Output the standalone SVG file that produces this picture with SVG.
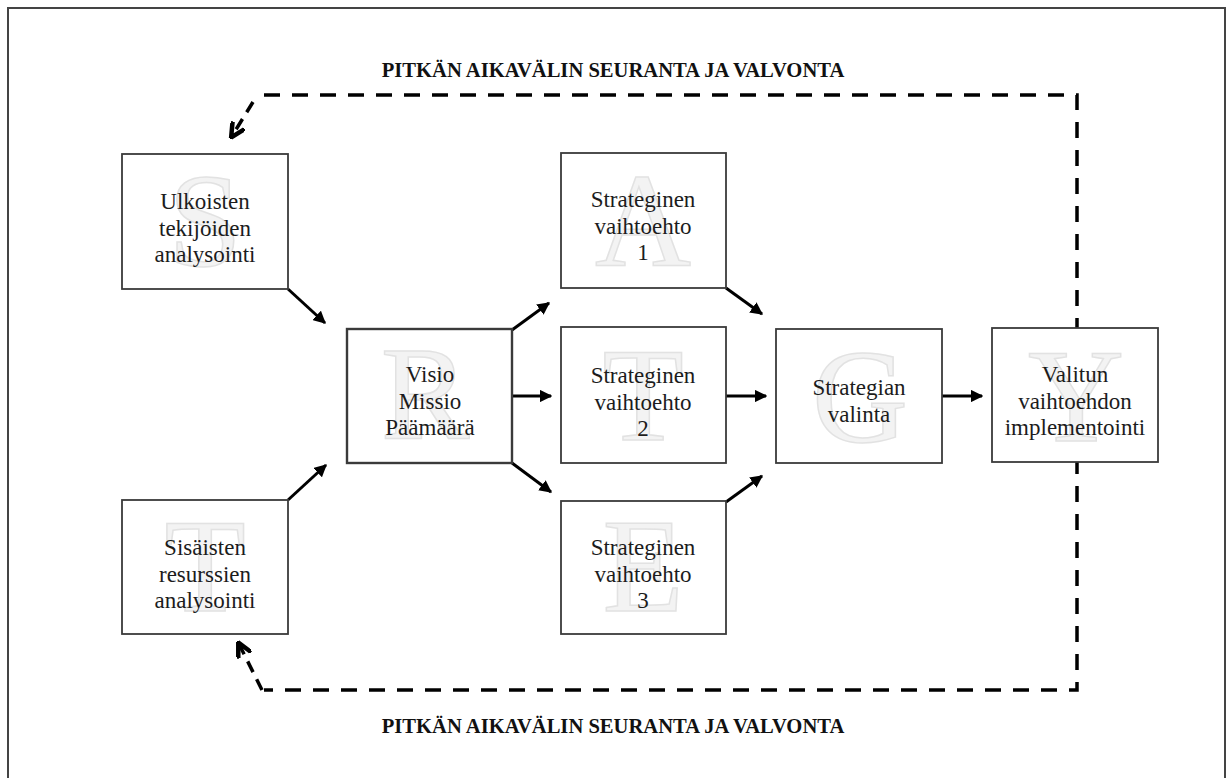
<svg xmlns="http://www.w3.org/2000/svg" width="1227" height="778" viewBox="0 0 1227 778">
<style>
.frame{fill:#fff;stroke:#444;stroke-width:2}
.box{fill:#fff;stroke:#3a3a3a;stroke-width:1.8}
.wm{font-family:"Liberation Serif","Times New Roman",serif;font-size:133px;fill:#f3f3f3;stroke:#e2e2e2;stroke-width:1.5;text-anchor:middle}
.lbl{font-family:"Liberation Serif","Times New Roman",serif;font-size:23px;fill:#1c1c1c;text-anchor:middle}
.title{font-family:"Liberation Serif","Times New Roman",serif;font-size:20.6px;font-weight:bold;fill:#111;text-anchor:middle}
.arr{stroke:#000;stroke-width:3;fill:none;marker-end:url(#ah)}
.dash{stroke:#000;stroke-width:3.5;fill:none;stroke-dasharray:16 12}
.dashA{stroke:#000;stroke-width:3.5;fill:none;stroke-dasharray:12 8;marker-end:url(#ah2)}
</style>
<defs>
<marker id="ah" viewBox="0 0 10 10" refX="9" refY="5" markerWidth="4.2" markerHeight="4.2" orient="auto" markerUnits="strokeWidth">
<path d="M0,0 L10,5 L0,10 z" fill="#000"/>
</marker>
<marker id="ah2" viewBox="0 0 10 10" refX="8" refY="5" markerWidth="4.6" markerHeight="4.6" orient="auto" markerUnits="strokeWidth">
<path d="M0,0.5 L9,5 L0,9.5" fill="none" stroke="#000" stroke-width="2.8"/>
</marker>
</defs>
<rect class="frame" x="8" y="8" width="1217" height="790"/>
<text class="title" x="613" y="77">PITKÄN AIKAVÄLIN SEURANTA JA VALVONTA</text>
<text class="title" x="613" y="733">PITKÄN AIKAVÄLIN SEURANTA JA VALVONTA</text>
<g id="connectors">
<polyline class="dash" points="264,95 1077,95 1077,690 264,690"/>
<line class="dashA" x1="253" y1="102" x2="232" y2="136"/>
<line class="dashA" x1="262" y1="690" x2="239" y2="644"/>
<line class="arr" x1="288" y1="289" x2="325" y2="323"/>
<line class="arr" x1="288" y1="500" x2="326" y2="465"/>
<line class="arr" x1="512" y1="330" x2="549" y2="303"/>
<line class="arr" x1="512" y1="396" x2="551" y2="396"/>
<line class="arr" x1="512" y1="463" x2="551" y2="492"/>
<line class="arr" x1="726" y1="288" x2="762" y2="314"/>
<line class="arr" x1="726" y1="396" x2="766" y2="396"/>
<line class="arr" x1="726" y1="502" x2="762" y2="476"/>
<line class="arr" x1="942" y1="396" x2="982" y2="396"/>
</g>
<g id="n-ulkoisten">
<rect class="box" x="122" y="154" width="166" height="135"/>
<text class="wm" x="205" y="266">S</text>
<text class="lbl" x="205" y="209">Ulkoisten</text>
<text class="lbl" x="205" y="236">tekijöiden</text>
<text class="lbl" x="205" y="262">analysointi</text>
</g>
<g id="n-sisaisten">
<rect class="box" x="122" y="500" width="166" height="134"/>
<text class="wm" x="205" y="611">T</text>
<text class="lbl" x="205" y="555">Sisäisten</text>
<text class="lbl" x="205" y="582">resurssien</text>
<text class="lbl" x="205" y="608">analysointi</text>
</g>
<g id="n-visio">
<rect class="box" x="347" y="329" width="165" height="134" style="stroke-width:2.4"/>
<text class="wm" x="425" y="438">R</text>
<text class="lbl" x="430" y="382">Visio</text>
<text class="lbl" x="430" y="409">Missio</text>
<text class="lbl" x="430" y="435">Päämäärä</text>
</g>
<g id="n-strat1">
<rect class="box" x="561" y="153" width="165" height="135"/>
<text class="wm" x="643" y="265">A</text>
<text class="lbl" x="643" y="207">Strateginen</text>
<text class="lbl" x="643" y="234">vaihtoehto</text>
<text class="lbl" x="643" y="260">1</text>
</g>
<g id="n-strat2">
<rect class="box" x="561" y="327" width="165" height="136"/>
<text class="wm" x="643" y="440">T</text>
<text class="lbl" x="643" y="383">Strateginen</text>
<text class="lbl" x="643" y="410">vaihtoehto</text>
<text class="lbl" x="643" y="436">2</text>
</g>
<g id="n-strat3">
<rect class="box" x="561" y="501" width="165" height="133"/>
<text class="wm" x="643" y="611">E</text>
<text class="lbl" x="643" y="555">Strateginen</text>
<text class="lbl" x="643" y="582">vaihtoehto</text>
<text class="lbl" x="643" y="608">3</text>
</g>
<g id="n-valinta">
<rect class="box" x="776" y="329" width="166" height="134"/>
<text class="wm" x="860" y="442">G</text>
<text class="lbl" x="859" y="395">Strategian</text>
<text class="lbl" x="859" y="422">valinta</text>
</g>
<g id="n-valitun">
<rect class="box" x="992" y="328" width="166" height="134"/>
<text class="wm" x="1076" y="441">Y</text>
<text class="lbl" x="1075" y="382">Valitun</text>
<text class="lbl" x="1075" y="409">vaihtoehdon</text>
<text class="lbl" x="1075" y="435">implementointi</text>
</g>
</svg>
